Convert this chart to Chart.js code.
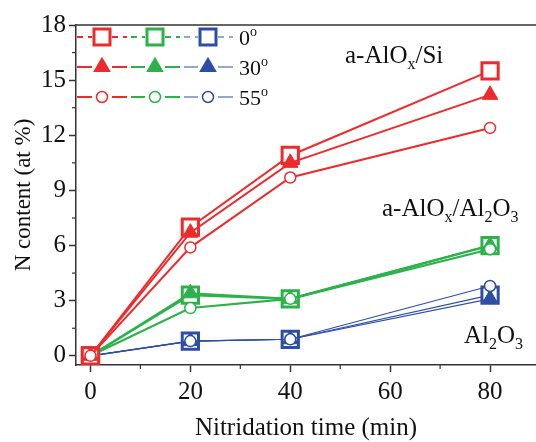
<!DOCTYPE html>
<html><head><meta charset="utf-8">
<script src="https://cdn.jsdelivr.net/npm/chart.js@4.4.1/dist/chart.umd.min.js"></script>
<style>html,body{margin:0;padding:0;background:#fff;overflow:hidden}#wrap{width:536px;height:442px;overflow:hidden}canvas{display:block}</style>
</head><body><div id="wrap"><canvas id="c" width="536" height="442"></canvas></div>
<script>
const times = [0, 20, 40, 80];
const si0 = [0, 7.0, 10.9, 15.5];
const si30 = [0, 6.7, 10.5, 14.2];
const si55 = [0, 5.9, 9.7, 12.4];
const al0 = [0, 3.3, 3.1, 6.0];
const al30 = [0, 3.4, 3.1, 6.0];
const al55 = [0, 2.6, 3.1, 5.8];
const ox0 = [0, 0.8, 0.9, 3.3];
const ox30 = [0, 0.8, 0.9, 3.1];
const ox55 = [0, 0.8, 0.9, 3.8];
const angleLabels = ['0', '30', '55'];
const xTitle = 'Nitridation time (min)';
const yTitle = 'N content (at %)';

const RED = '#EE2B2C', GREEN = '#2DB24B', BLUE = '#2E4EA6';
const SERIF = '"Liberation Serif", "DejaVu Serif", serif';
const AX = '#333333';

function pts(v){ return times.map((t,i)=>({x:t,y:v[i]})); }
function ds(v, color, shape, lw){
  const base = {data: pts(v), borderColor: color, borderWidth: lw, showLine: true, tension: 0,
    pointBorderColor: color};
  if (shape === 'sq') Object.assign(base, {pointStyle:'rect', pointRadius: 11.5, pointBorderWidth: 3, pointBackgroundColor:'#fff'});
  if (shape === 'tri') Object.assign(base, {pointStyle:'triangle', pointRadius: 9, pointBorderWidth: 1, pointBackgroundColor: color});
  if (shape === 'ci') Object.assign(base, {pointStyle:'circle', pointRadius: 5.5, pointBorderWidth: 1.5, pointBackgroundColor:'#fff'});
  return base;
}

const datasets = [
  ds(si55, RED, 'ci', 2), ds(si30, RED, 'tri', 2), ds(si0, RED, 'sq', 2),
  ds(al55, GREEN, 'ci', 2.2), ds(al30, GREEN, 'tri', 2.2), ds(al0, GREEN, 'sq', 2.2),
  ds(ox55, BLUE, 'ci', 1.2), ds(ox30, BLUE, 'tri', 1.2), ds(ox0, BLUE, 'sq', 1.2)
];

function drawMarker(ctx, shape, color, x, y){
  ctx.save();
  ctx.strokeStyle = color; ctx.fillStyle = color;
  if (shape === 'sq'){ ctx.lineWidth = 3; ctx.fillStyle='#fff'; ctx.beginPath(); ctx.rect(x-8, y-8, 16, 16); ctx.fill(); ctx.stroke(); }
  if (shape === 'tri'){ Chart.helpers.drawPoint(ctx, {pointStyle:'triangle', radius:9, borderWidth:1}, x, y); ctx.fill(); }
  if (shape === 'ci'){ ctx.lineWidth = 1.5; ctx.fillStyle='#fff'; ctx.beginPath(); ctx.arc(x, y, 5.5, 0, Math.PI*2); ctx.fill(); ctx.stroke(); }
  ctx.restore();
}

function richText(ctx, parts, x, y, big, small){
  let cx = x;
  for (const [t, m] of parts){
    const size = m === 'n' ? big : small;
    ctx.font = size + 'px ' + SERIF;
    const dy = m === 'sub' ? Math.round(big * 0.25) : (m === 'sup' ? -Math.round(big * 0.42) : 0);
    ctx.fillText(t, cx, y + dy);
    cx += ctx.measureText(t).width;
  }
}

const deco = {
  id: 'deco',
  afterDraw(chart){
    const ctx = chart.ctx, a = chart.chartArea;
    const xs = chart.scales.x, ys = chart.scales.y;
    ctx.save();
    ctx.strokeStyle = AX; ctx.lineWidth = 1.5;
    ctx.beginPath(); ctx.moveTo(a.left, a.top); ctx.lineTo(a.right, a.top); ctx.stroke();
    ctx.lineWidth = 1.2;
    [10, 30, 50, 70].forEach(v => { const p = xs.getPixelForValue(v); ctx.beginPath(); ctx.moveTo(p, a.bottom); ctx.lineTo(p, a.bottom + 4); ctx.stroke(); });
    [1.5, 4.5, 7.5, 10.5, 13.5, 16.5].forEach(v => { const p = ys.getPixelForValue(v); ctx.beginPath(); ctx.moveTo(a.left, p); ctx.lineTo(a.left - 4, p); ctx.stroke(); });

    const colors = [RED, GREEN, BLUE];
    const mxs = [102, 155, 208];
    const rows = [{y:37, shape:'sq', dash:true}, {y:67, shape:'tri', dash:false}, {y:97, shape:'ci', dash:false}];
    rows.forEach((r, ri) => {
      colors.forEach((c, ci) => {
        const mx = mxs[ci];
        ctx.save();
        ctx.strokeStyle = c; ctx.lineWidth = ci === 2 ? 1.2 : 1.8;
        if (r.dash) ctx.setLineDash([6, 5]);
        ctx.beginPath();
        ctx.moveTo(ci === 0 ? 77 : mx - 24, r.y); ctx.lineTo(mx - 10, r.y);
        ctx.moveTo(mx + 10, r.y); ctx.lineTo(mx + 25, r.y);
        ctx.stroke();
        ctx.restore();
        drawMarker(ctx, r.shape, c, mx, r.y);
      });
      ctx.fillStyle = '#111'; ctx.textBaseline = 'alphabetic'; ctx.textAlign = 'left';
      richText(ctx, [[angleLabels[ri], 'n'], ['o', 'sup']], 239, r.y + 8, 22, 14);
    });

    ctx.fillStyle = '#111';
    richText(ctx, [['a-AlO','n'],['x','sub'],['/Si','n']], 345, 63, 25, 16);
    richText(ctx, [['a-AlO','n'],['x','sub'],['/Al','n'],['2','sub'],['O','n'],['3','sub']], 382, 216, 25, 16);
    richText(ctx, [['Al','n'],['2','sub'],['O','n'],['3','sub']], 464, 343, 25, 16);

    ctx.font = '25px ' + SERIF; ctx.textAlign = 'center'; ctx.textBaseline = 'middle';
    ctx.fillText(xTitle, (a.left + a.right) / 2, 428);
    ctx.font = '23px ' + SERIF;
    ctx.translate(24, (a.top + a.bottom) / 2); ctx.rotate(-Math.PI / 2);
    ctx.fillText(yTitle, 0, 0);
    ctx.restore();
  }
};

new Chart(document.getElementById('c'), {
  type: 'scatter',
  data: { datasets },
  plugins: [deco],
  options: {
    responsive: false, animation: false,
    layout: { autoPadding: false, padding: { top: 25, right: 0, left: 0, bottom: 0 } },
    plugins: { legend: { display: false }, tooltip: { enabled: false } },
    scales: {
      x: {
        type: 'linear', min: -2.9, max: 89.2,
        afterFit(s){ s.height = 77; s.paddingRight = 0; s.paddingLeft = 0; },
        ticks: { stepSize: 20, includeBounds: false, color: '#111', padding: 5, font: { family: SERIF, size: 25 } },
        grid: { drawOnChartArea: false, drawTicks: true, tickLength: 7, color: AX, tickWidth: 1.5 },
        border: { color: AX, width: 1.5 }
      },
      y: {
        type: 'linear', min: -0.5, max: 18,
        afterFit(s){ s.width = 76; s.paddingTop = 0; s.paddingBottom = 0; },
        ticks: { stepSize: 3, includeBounds: false, color: '#111', padding: 3, font: { family: SERIF, size: 25 } },
        grid: { drawOnChartArea: false, drawTicks: true, tickLength: 7, color: AX, tickWidth: 1.5 },
        border: { color: AX, width: 1.5 }
      }
    }
  }
});
</script></body></html>
